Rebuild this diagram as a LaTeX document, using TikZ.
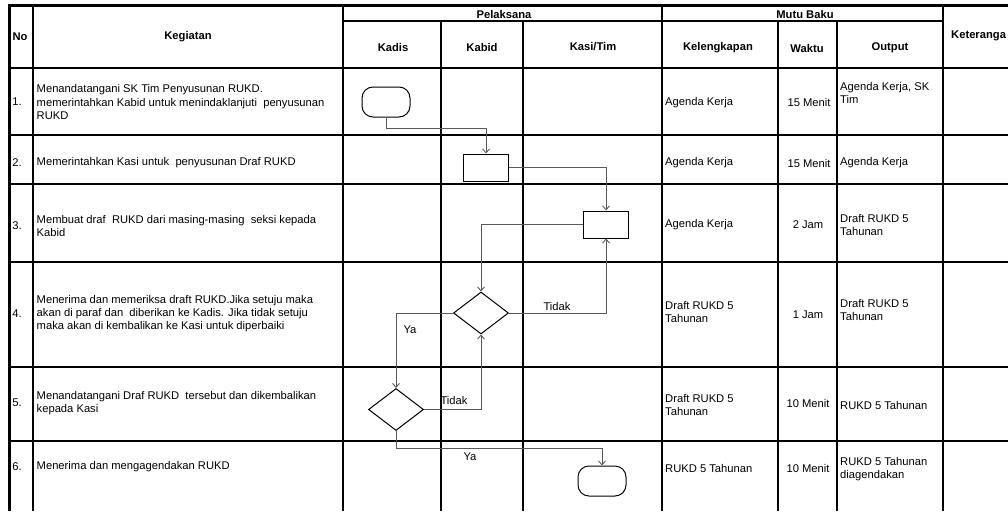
\documentclass[tikz,border=0pt]{standalone}
\usepackage{fontspec}
\setmainfont{Liberation Sans}
\usetikzlibrary{arrows.meta,shapes.geometric}

\tikzset{
	grid/.style={line width=2.2pt},
	txt/.style={inner sep=0pt,font=\fontsize{11.2}{13}\selectfont,align=left},
	head/.style={inner sep=0pt,font=\fontsize{11.2}{13}\selectfont\bfseries},
	term/.style={draw,line width=1pt,rounded corners=11pt,minimum width=48pt,minimum height=30pt,inner sep=0pt},
	proc/.style={draw,line width=1pt,minimum width=45pt,minimum height=27pt,inner sep=0pt},
	deci/.style={draw,line width=1pt,diamond,minimum width=55pt,minimum height=42pt,inner sep=0pt},
	flow/.style={line width=0.9pt,draw=black!65,-{Straight Barb[length=4pt,width=7pt]}},
	lbl/.style={inner sep=0pt,font=\fontsize{11.2}{13}\selectfont}
}

\begin{document}
\begin{tikzpicture}[x=1pt,y=-1pt]
			\useasboundingbox (0,0) rectangle (1008,511);
			% table
			\draw[line width=3pt] (9.5,5.5) -- (1008,5.5);
			\draw[line width=3pt] (9.5,4) -- (9.5,511);
			\draw[grid] (343,21) -- (943,21);
			\foreach \y in {68,135,184,262,367,441}
				\draw[grid] (9.5,\y) -- (1008,\y);
			\foreach \x in {33,343,662,943}
				\draw[grid] (\x,5.5) -- (\x,511);
			\foreach \x in {441,523,778,837}
				\draw[grid] (\x,21) -- (\x,511);
			% header
			\node[head] (hNo) at (20,37) {No};
			\node[head] (hKeg) at (188,37) {Kegiatan};
			\node[head] (hPel) at (504,14) {Pelaksana};
			\node[head] (hKadis) at (393,47) {Kadis};
			\node[head] (hKabid) at (482,47) {Kabid};
			\node[head] (hKasi) at (593,47) {Kasi/Tim};
			\node[head] (hMutu) at (805,14) {Mutu Baku};
			\node[head] (hKel) at (718,48) {Kelengkapan};
			\node[head] (hWaktu) at (807,48) {Waktu};
			\node[head] (hOut) at (890,48) {Output};
			\node[head,anchor=west] (hKet) at (951,36) {Keteranga};
			% nomor
			\node[txt] (n1) at (17,102) {1.};
			\node[txt] (n2) at (17,163) {2.};
			\node[txt] (n3) at (17,226) {3.};
			\node[txt] (n4) at (17,314) {4.};
			\node[txt] (n5) at (17,403) {5.};
			\node[txt] (n6) at (17,467) {6.};
			% kegiatan
			\node[txt,anchor=west,font=\fontsize{11.2}{13.7}\selectfont] (k1) at (36.5,102) {Menandatangani SK Tim Penyusunan RUKD.\\memerintahkan Kabid untuk menindaklanjuti\ \ penyusunan\\RUKD};
			\node[txt,anchor=west] (k2) at (36.5,163) {Memerintahkan Kasi untuk\ \ penyusunan Draf RUKD};
			\node[txt,anchor=west] (k3) at (36.5,226) {Membuat draf\ \ RUKD dari masing-masing\ \ seksi kepada\\Kabid};
			\node[txt,anchor=west] (k4) at (36.5,314) {Menerima dan memeriksa draft RUKD.Jika setuju maka\\akan di paraf dan\ \ diberikan ke Kadis. Jika tidak setuju\\maka akan di kembalikan ke Kasi untuk diperbaiki};
			\node[txt,anchor=west] (k5) at (36.5,403) {Menandatangani Draf RUKD\ \ tersebut dan dikembalikan\\kepada Kasi};
			\node[txt,anchor=west] (k6) at (36.5,467) {Menerima dan mengagendakan RUKD};
			% kelengkapan
			\node[txt,anchor=west] (l1) at (665,103) {Agenda Kerja};
			\node[txt,anchor=west] (l2) at (665,163) {Agenda Kerja};
			\node[txt,anchor=west] (l3) at (665,225) {Agenda Kerja};
			\node[txt,anchor=west] (l4) at (665,312) {Draft RUKD 5\\Tahunan};
			\node[txt,anchor=west] (l5) at (665,405) {Draft RUKD 5\\Tahunan};
			\node[txt,anchor=west] (l6) at (665,468) {RUKD 5 Tahunan};
			% waktu
			\node[txt] (w1) at (809,102) {15 Menit};
			\node[txt] (w2) at (809,163) {15 Menit};
			\node[txt] (w3) at (808,225) {2 Jam};
			\node[txt] (w4) at (808,315) {1 Jam};
			\node[txt] (w5) at (808,403) {10 Menit};
			\node[txt] (w6) at (808,468) {10 Menit};
			% output
			\node[txt,anchor=west] (o1) at (840,93) {Agenda Kerja, SK\\Tim};
			\node[txt,anchor=west] (o2) at (840,163) {Agenda Kerja};
			\node[txt,anchor=west] (o3) at (840,225) {Draft RUKD 5\\Tahunan};
			\node[txt,anchor=west] (o4) at (840,310) {Draft RUKD 5\\Tahunan};
			\node[txt,anchor=west] (o5) at (840,405) {RUKD 5 Tahunan};
			\node[txt,anchor=west] (o6) at (840,469) {RUKD 5 Tahunan\\diagendakan};
			% flowchart
			\node[term] (t1) at (386,102) {};
			\node[proc] (p2) at (486,167.5) {};
			\node[proc] (p3) at (606,224.5) {};
			\node[deci] (d1) at (481,313) {};
			\node[deci] (d2) at (396,409.5) {};
			\node[term] (t2) at (602,481) {};
			\draw[flow] (t1.south) -- ++(0,11) -| (p2.north);
			\draw[flow] (p2.east) -| (p3.north);
			\draw[flow] (p3.west) -| (d1.north);
			\draw[flow] (d1.east) -| (p3.south);
			\draw[flow] (d1.west) -| (d2.north);
			\draw[flow] (d2.east) -| (d1.south);
			\draw[flow] (d2.south) -- ++(0,17) -| (t2.north);
			\node[lbl] (tidak1) at (557,306) {Tidak};
			\node[lbl] (ya1) at (410,330) {Ya};
			\node[lbl] (tidak2) at (454,400) {Tidak};
			\node[lbl] (ya2) at (470,457) {Ya};
		\end{tikzpicture}
\end{document}
